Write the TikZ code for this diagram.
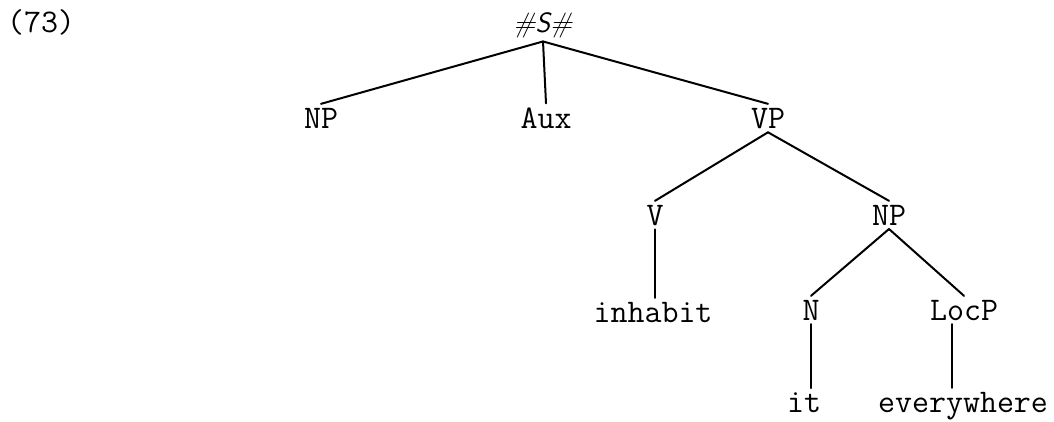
\documentclass[tikz,border=0pt]{standalone}
\usepackage{fontspec}
\begin{document}
\begin{tikzpicture}[x=1pt,y=-1pt,
  lbl/.style={anchor=base,inner sep=0pt,outer sep=4pt,font=\fontsize{33}{38}\selectfont\ttfamily},
  rootlbl/.style={anchor=base,inner sep=0pt,outer sep=4pt,font=\fontsize{28}{32}\selectfont\sffamily\slshape},
  branch/.style={line width=2pt,line cap=round}]
\useasboundingbox (0,0) rectangle (1054,421);
\node[lbl] (num) at (41,32) {(73)};
\node[rootlbl] (S) at (543,32) {\#S\#};
\node[lbl] (NPa) at (321,128) {NP};
\node[lbl] (Aux) at (546,128) {Aux};
\node[lbl] (VP) at (768,128) {VP};
\node[lbl] (V) at (655,225) {V};
\node[lbl] (NPb) at (889,225) {NP};
\node[lbl] (inh) at (653,322) {inhabit};
\node[lbl] (N) at (811,320) {N};
\node[lbl] (LocP) at (964,320) {LocP};
\node[lbl] (it) at (804,412) {it};
\node[lbl] (ev) at (963,412) {everywhere};
\draw[branch] (S.south) -- (NPa.north);
\draw[branch] (S.south) -- (Aux.north);
\draw[branch] (S.south) -- (VP.north);
\draw[branch] (VP.south) -- (V.north);
\draw[branch] (VP.south) -- (NPb.north);
\draw[branch] (V.south) -- (V.south |- inh.north);
\draw[branch] (NPb.south) -- (N.north);
\draw[branch] (NPb.south) -- (LocP.north);
\draw[branch] (N.south) -- (N.south |- it.north);
\draw[branch] ([xshift=-12pt]LocP.south) -- ([xshift=-12pt]LocP.south |- ev.north);
\end{tikzpicture}
\end{document}
